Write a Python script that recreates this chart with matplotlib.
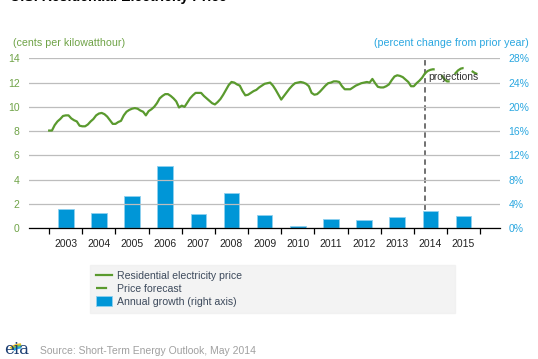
import matplotlib.pyplot as plt
import numpy as np
from matplotlib.patches import Arc

plt.rcParams['font.family'] = ['Liberation Sans', 'DejaVu Sans']

# monthly residential price, cents/kWh, Jan 2003 .. Dec 2015
price_2003 = [8.05, 8.05, 8.5, 8.8, 9.0, 9.25, 9.3, 9.3, 9.05, 8.9, 8.8, 8.45]
price_2004 = [8.4, 8.4, 8.55, 8.8, 9.0, 9.3, 9.45, 9.5, 9.4, 9.2, 8.9, 8.6]
price_2005 = [8.6, 8.75, 8.85, 9.3, 9.6, 9.75, 9.85, 9.9, 9.85, 9.7, 9.6, 9.3]
price_2006 = [9.65, 9.8, 10.0, 10.3, 10.7, 10.9, 11.05, 11.05, 10.9, 10.7, 10.45, 9.95]
price_2007 = [10.1, 10.0, 10.35, 10.7, 10.95, 11.15, 11.15, 11.15, 10.9, 10.7, 10.5, 10.3]
price_2008 = [10.2, 10.4, 10.65, 11.0, 11.4, 11.8, 12.05, 12.0, 11.85, 11.75, 11.3, 10.95]
price_2009 = [11.0, 11.15, 11.3, 11.4, 11.6, 11.75, 11.9, 11.95, 12.0, 11.75, 11.4, 11.0]
price_2010 = [10.6, 10.9, 11.2, 11.5, 11.75, 11.95, 12.0, 12.05, 12.0, 11.9, 11.7, 11.15]
price_2011 = [11.0, 11.05, 11.25, 11.5, 11.75, 11.95, 12.0, 12.1, 12.1, 12.05, 11.7, 11.45]
price_2012 = [11.45, 11.45, 11.6, 11.75, 11.85, 11.95, 12.0, 12.05, 12.0, 12.3, 11.95, 11.65]
price_2013 = [11.6, 11.6, 11.7, 11.85, 12.2, 12.5, 12.6, 12.55, 12.45, 12.25, 12.05, 11.7]
price_2014 = [11.7, 11.95, 12.15, 12.4, 12.75, 12.95, 13.05, 13.1, 13.05, 12.85, 12.6, 12.3]
price_2015 = [12.1, 12.1, 12.45, 12.75, 13.0, 13.15, 13.2, 13.2, 13.1, 12.95, 12.8, 12.7]
n_hist = 136  # Jan 2003 .. Apr 2014 are history, forecast from May 2014

years = list(range(2003, 2016))
growth = [3.2, 2.5, 5.3, 10.2, 2.4, 5.8, 2.2, 0.3, 1.6, 1.3, 1.9, 2.8, 2.1]

price = np.array(price_2003 + price_2004 + price_2005 + price_2006 + price_2007
                 + price_2008 + price_2009 + price_2010 + price_2011 + price_2012
                 + price_2013 + price_2014 + price_2015)
t = 2003 + np.arange(len(price)) / 12

green = '#5a9a2e'
blue = '#0096d7'
txt_green = '#6fa347'
txt_blue = '#2aa7e0'

fig = plt.figure(figsize=(5.38, 3.59), dpi=100)
ax = fig.add_axes([29.3 / 538, 1 - 228.3 / 359, 470.7 / 538, 170 / 359])
ax2 = ax.twinx()
ax.set_zorder(2)
ax.patch.set_visible(False)

# projection marker sits behind the bars
ax2.axvline(t[n_hist], ymax=1.01, color='#666666', lw=1.3, dashes=(3, 2),
            zorder=1, clip_on=False)
bars = ax2.bar(np.array(years) + 0.5, growth, width=0.47, color=blue,
               edgecolor='#8fd0ef', linewidth=0.6, zorder=3,
               label='Annual growth (right axis)')
ax2.set_ylim(0, 28)
ax2.set_yticks(range(0, 29, 4))
ax2.set_yticklabels([f'{v}%' for v in range(0, 29, 4)])

l1, = ax.plot(t[:n_hist + 1], price[:n_hist + 1], color=green, lw=1.6,
              label='Residential electricity price')
l2, = ax.plot(t[n_hist:], price[n_hist:], color=green, lw=1.6,
              dashes=(5, 4), label='Price forecast')
ax.text(t[n_hist] + 0.1, 12.45, 'projections', fontsize=7.5, color='#333333',
        va='center', ha='left')

ax.set_ylim(0, 14)
ax.set_xlim(2002.4, 2016.6)
ax.set_yticks(range(0, 15, 2))
ax.grid(axis='y', color='#bdbdbd', lw=0.9)
ax.set_axisbelow(True)
ax2.grid(False)

ax.set_xticks(range(2003, 2017))
ax.set_xticks(np.array(years) + 0.5, minor=True)
ax.set_xticklabels([])
ax.set_xticklabels([str(y) for y in years], minor=True)
ax.tick_params(axis='x', which='major', length=4, width=0.9, color='black')
ax.tick_params(axis='x', which='minor', length=0, pad=8, labelsize=7.5,
               labelcolor='#222222')
ax.tick_params(axis='y', length=0, pad=7, labelsize=7.5, labelcolor=txt_green)
ax2.tick_params(axis='y', length=0, pad=6, labelsize=7.5, labelcolor=txt_blue)

for a in (ax, ax2):
    for s in ('left', 'right', 'top'):
        a.spines[s].set_visible(False)
    a.spines['bottom'].set_color('black')
    a.spines['bottom'].set_linewidth(0.9)
ax2.spines['bottom'].set_visible(False)

fig.text(12.7 / 538, 1 - 43.3 / 359, '(cents per kilowatthour)', fontsize=7.7,
         color=txt_green, va='center', ha='left')
fig.text(529 / 538, 1 - 43.3 / 359, '(percent change from prior year)',
         fontsize=7.7, color=txt_blue, va='center', ha='right')
fig.text(10 / 538, 1 - 0.5 / 359, 'U.S. Residential Electricity Price',
         fontsize=10.2, fontweight='bold', color='black', va='baseline',
         ha='left')

leg = fig.legend(handles=[l1, l2, bars], loc='upper left',
                 bbox_to_anchor=(90 / 538, 1 - 314 / 359, 365 / 538, 49 / 359),
                 mode='expand', frameon=True, fontsize=7.6, handlelength=1.5,
                 handleheight=1.05, handletextpad=0.5, labelspacing=0.22,
                 borderaxespad=0, borderpad=0.55, fancybox=False)
leg.get_frame().set_facecolor('#f0f0f0')
leg.get_frame().set_edgecolor('#f0f0f0')
for tx in leg.get_texts():
    tx.set_color('#3d4a5c')

fig.text(39.5 / 538, 1 - 351 / 359, 'Source: Short-Term Energy Outlook, May 2014',
         fontsize=7.5, color='#a0a0a0', va='center', ha='left')

# small eia logo
lax = fig.add_axes([2 / 538, 2 / 359, 30 / 538, 26 / 359])
lax.set_xlim(0, 30)
lax.set_ylim(0, 26)
lax.axis('off')
lax.text(15, 3, 'eia', fontsize=12, family='DejaVu Serif', color='#1d3f73',
         ha='center', va='baseline')
for r, c in [(15, '#f2c12e'), (13, '#8cc63f'), (11, '#2aa7e0')]:
    lax.add_patch(Arc((20, 2), 2 * r, 1.4 * r, theta1=95, theta2=150, color=c,
                      lw=1.8))

fig.savefig('out.png', dpi=100)
